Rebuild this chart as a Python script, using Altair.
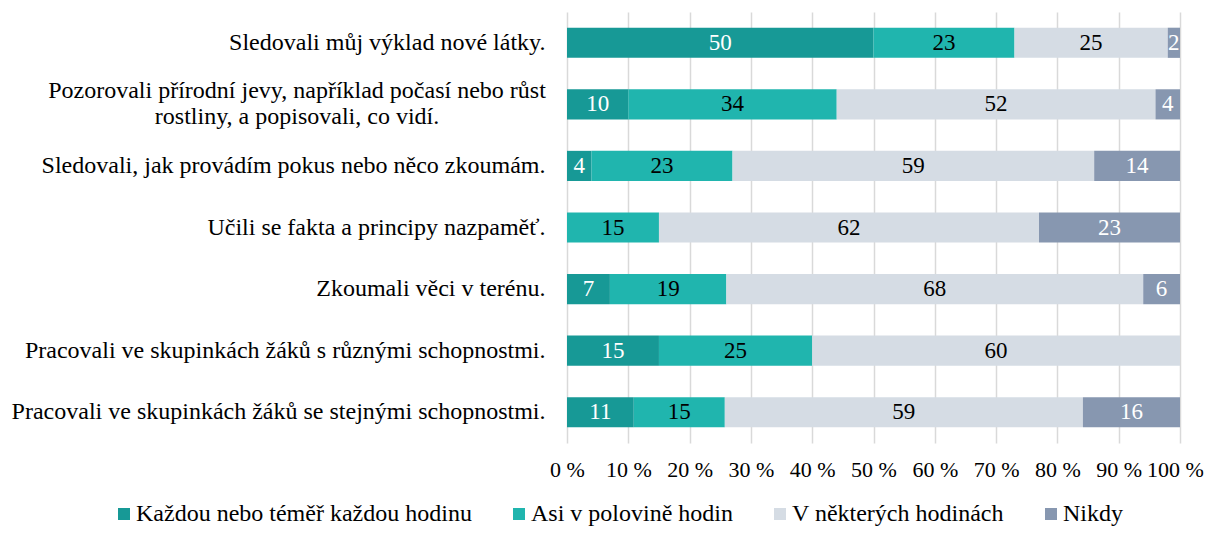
import altair as alt
import pandas as pd

categories = [
    "Sledovali můj výklad nové látky.",
    "Pozorovali přírodní jevy, například počasí nebo růst\nrostliny, a popisovali, co vidí.",
    "Sledovali, jak provádím pokus nebo něco zkoumám.",
    "Učili se fakta a principy nazpaměť.",
    "Zkoumali věci v terénu.",
    "Pracovali ve skupinkách žáků s různými schopnostmi.",
    "Pracovali ve skupinkách žáků se stejnými schopnostmi.",
]
series = ["Každou nebo téměř každou hodinu", "Asi v polovině hodin", "V některých hodinách", "Nikdy"]
v_kazdou = [50, 10, 4, 0, 7, 15, 11]
v_polovina = [23, 34, 23, 15, 19, 25, 15]
v_nektere = [25, 52, 59, 62, 68, 60, 59]
v_nikdy = [2, 4, 14, 23, 6, 0, 16]
tick_values = [0, 0.1, 0.2, 0.3, 0.4, 0.5, 0.6, 0.7, 0.8, 0.9, 1.0]
colors = ["#179996", "#20b5ae", "#d5dce4", "#8797b0"]
text_colors = ["#ffffff", "#000000", "#000000", "#ffffff"]

rows = []
for i, cat in enumerate(categories):
    for j, (s, vals) in enumerate(zip(series, [v_kazdou, v_polovina, v_nektere, v_nikdy])):
        rows.append({"cat": cat, "series": s, "order": j, "value": vals[i], "tcol": text_colors[j]})
df = pd.DataFrame(rows)

FONT = "Liberation Serif"

base = alt.Chart(df).transform_joinaggregate(
    total="sum(value)", groupby=["cat"]
).transform_calculate(
    pct="datum.value / datum.total"
).transform_window(
    cum="sum(pct)", groupby=["cat"], sort=[alt.SortField("order")], frame=[None, 0]
).transform_calculate(
    start="datum.cum - datum.pct", mid="datum.cum - datum.pct / 2"
)

y = alt.Y(
    "cat:N", sort=categories, title=None,
    scale=alt.Scale(paddingInner=0.51, paddingOuter=0.255),
    axis=alt.Axis(
        labelFont=FONT, labelFontSize=24, labelColor="#000000", labelLimit=700,
        labelPadding=22, ticks=False, domain=False,
        labelExpr="indexof(datum.label, '\\n') >= 0 ? '' : datum.label",
    ),
)

bars = base.mark_bar().encode(
    x=alt.X(
        "start:Q", title=None,
        scale=alt.Scale(domain=[0, 1], nice=False),
        axis=alt.Axis(
            labelExpr="format(datum.value*100, '.0f') + ' %'",
            values=tick_values, labelFont=FONT, labelFontSize=22,
            labelColor="#000000", ticks=False, domain=False, labelPadding=16,
            labelOverlap=False, labelFlush=False,
            labelOffset={"condition": {"test": "datum.value >= 1", "value": -5}, "value": 0},
            grid=True, gridColor="#d9d9d9", gridWidth=1.5,
        ),
    ),
    x2="cum:Q",
    y=y,
    color=alt.Color(
        "series:N", sort=series, scale=alt.Scale(domain=series, range=colors),
        legend=alt.Legend(
            title=None, orient="none", direction="horizontal", legendX=-455, legendY=490,
            symbolType="square", symbolSize=144, symbolStrokeWidth=0, labelFont=FONT,
            labelFontSize=24, labelColor="#000000", columnPadding=35, symbolOffset=0,
            labelOffset=0, labelLimit=500, padding=0,
        ),
    ),
    order=alt.Order("order:Q"),
)

labels = base.transform_filter("datum.value > 0").mark_text(
    font=FONT, fontSize=23, baseline="middle", align="center"
).encode(
    x="mid:Q",
    y=alt.Y("cat:N", sort=categories),
    text="value:Q",
    color=alt.Color("tcol:N", scale=None),
)

multi_df = pd.DataFrame({"cat": [c for c in categories if "\n" in c]})
multi_label = alt.Chart(multi_df).mark_text(
    font=FONT, fontSize=24, baseline="middle", align="center", lineBreak="\n",
    lineHeight=26, color="#000000", dy=-13,
).encode(
    x=alt.value(-270),
    y=alt.Y("cat:N", sort=categories),
    text="cat:N",
)

chart = alt.layer(bars, labels, multi_label).properties(
    width=613, height=431,
    autosize=alt.AutoSizeParams(type="none"),
    padding={"left": 559, "top": 4, "right": 24, "bottom": 83},
).configure_view(stroke=None)

chart.save("out.html", embed_options={"renderer": "svg", "actions": False})
